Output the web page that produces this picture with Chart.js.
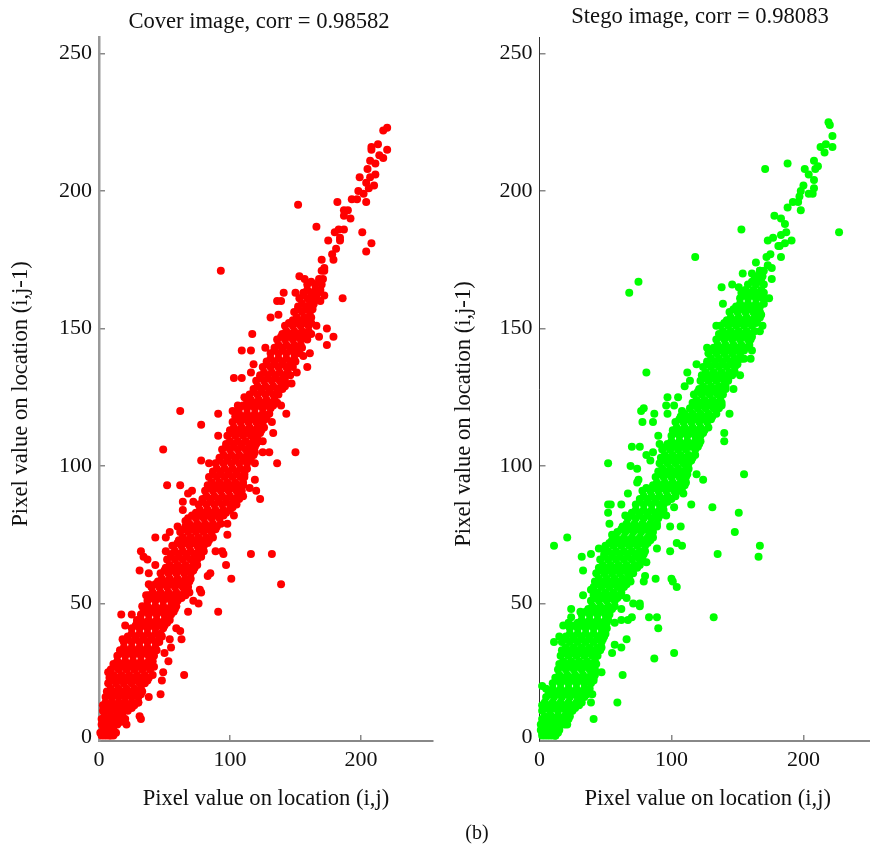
<!DOCTYPE html>
<html lang="en">
<head>
  <meta charset="UTF-8" />
  <title>Cover and stego pixel correlation</title>
  <script src="https://cdn.jsdelivr.net/npm/chart.js"></script>
  <style>
    html, body { margin: 0; padding: 0; background: #fff; width: 870px; height: 846px; overflow: hidden; }
    canvas { position: absolute; top: 0; }
    #cover { left: 0; }
    #stego { left: 440px; }
    #caption { position: absolute; left: 440px; top: 821px; width: 74px; text-align: center; font: 20px "Liberation Serif", serif; color: #111; }
  </style>
</head>
<body>
  <canvas id="cover" width="440" height="846"></canvas>
  <canvas id="stego" width="440" height="846"></canvas>
  <div id="caption">(b)</div>

  <script>
    const xTicks = [0, 100, 200];
    const yTicks = [0, 50, 100, 150, 200, 250];

    // dense part of the cloud, one row per pixel value on (i,j-1): [y, x, x, ...]
    const coverRows = [
      [2,2,6,9],[3,1,5,9,13],[6,2,6,10,14],[8,2,6,11,16,20],[11,3,8,13,18,22],[13,3,7,12,17,22,27],
      [16,5,10,15,20,25,30],[18,6,12,18,24,30,33],[21,7,13,19,25,31,35],[23,8,14,20,26,32,38],
      [26,9,15,21,27,33,39],[28,11,17,23,29,35,40],[31,14,20,26,32,38,42],[33,16,22,28,34,40,44],
      [36,19,25,31,37,43,46],[38,22,28,34,40,46,48],[41,25,31,37,43,49],[43,29,35,41,47,52],
      [46,32,38,44,50,55],[48,34,40,46,52,58],[51,37,43,49,55,60],[53,38,44,50,56,62,66],
      [56,40,46,52,58,64,68],[58,45,51,57,63,69],[61,47,53,59,65,70],[63,51,57,63,69,73],
      [66,52,58,64,70,75],[68,55,61,67,73,78],[71,57,63,69,75,80],[73,61,67,73,79,84],
      [76,62,68,74,80,86],[78,66,72,78,84,90],[81,68,74,80,86,92],[83,74,80,86,92,97],
      [86,76,82,88,94,100],[88,79,85,91,97,103,107],[91,81,87,93,99,105,109],[93,83,89,95,101,107,110],
      [96,84,90,96,102,108,111],[98,87,93,99,105,111],[101,89,95,101,107,113],[103,92,98,104,110,116],
      [106,94,100,106,112,117],[108,97,103,109,115,120],[111,98,104,110,116,121],[113,100,106,112,118,124],
      [116,102,108,114,120,125],[118,104,110,116,122,128],[121,107,113,119,125,131],[123,113,119,125,131,136],
      [126,115,121,127,133,137],[128,118,124,130,136,140],[131,120,126,132,138,142],[133,123,129,135,141,146],
      [136,125,131,137,143,148],[138,128,134,140,146,150],[141,131,137,143,149,153],[143,134,140,146,152,155],
      [146,136,142,148,154,159],[148,140,146,152,158,162],[151,142,148,154,160],[153,148,154,160],
      [156,149,155,161],[158,152,158,163],[161,153,159,164],[163,156,162,167],[166,159,165,170],
      [168,168,171],[171,170,172]
    ];

    // same cloud, the rows that sit between the ones above
    const coverFill = [
      [2,4,8,11],[4,3,7,11],[7,4,8,12,17],[9,4,9,14,18],[12,5,10,15,20,25],[14,5,10,15,20,25,30],
      [17,8,13,18,23,28,32],[19,9,15,21,27,32],[22,10,16,22,28,33,37],[24,11,17,23,29,35,41],
      [27,12,18,24,30,36,42],[29,14,20,26,32,38,41],[32,17,23,29,35,41],[34,19,25,31,37,43],
      [37,22,28,34,40,46],[39,25,31,37,43,47],[42,28,34,40,46,50],[44,32,38,44,50,54],
      [47,35,41,47,53,57],[49,37,43,49,55,59],[52,40,46,52,58,63],[54,41,47,53,59,65,69],
      [57,43,49,55,61,67],[59,48,54,60,66,70],[62,50,56,62,68,72],[64,54,60,66,72,75],
      [67,55,61,67,73,78],[69,58,64,70,76,80],[72,60,66,72,78,83],[74,64,70,76,82,87],
      [77,65,71,77,83,89],[79,69,75,81,87,93],[82,71,77,83,89,95],[84,77,83,89,95,100],
      [87,79,85,91,97,103],[89,82,88,94,100,106,110],[92,84,90,96,102,108],[94,86,92,98,104,110],
      [97,87,93,99,105,111],[99,90,96,102,108,113],[102,92,98,104,110,115],[104,95,101,107,113,118],
      [107,97,103,109,115,119],[109,100,106,112,118,122],[112,101,107,113,119,123],[114,103,109,115,121,126],
      [117,105,111,117,123,127],[119,107,113,119,125,130],[122,110,116,122,128,133],[124,116,122,128,134],
      [127,118,124,130,136],[129,121,127,133,139],[132,123,129,135,141],[134,126,132,138,144],
      [137,128,134,140,146],[139,131,137,143,149],[142,134,140,146,151],[144,137,143,149,154],
      [147,139,145,151,157],[149,143,149,155,160],[152,145,151,157,162],[154,151,157,162],
      [157,152,158,163],[159,155,161,164],[162,156,162,166],[164,159,165,169],[167,162,168]
    ];

    // scattered points read one by one: [x, y]
    const coverLoose = [
      [220,223],[217,222],[220,215],[213,217],[208,216],[208,215],[214,213],[217,212],[207,211],[211,210],
      [205,208],[211,206],[207,205],[199,205],[204,203],[210,202],[206,201],[198,200],[202,199],[193,197],
      [197,197],[204,196],[182,196],[152,195],[187,193],[190,193],[187,191],[192,190],[166,187],[187,186],
      [183,186],[180,185],[201,185],[184,183],[184,182],[175,182],[208,181],[181,179],[204,178],[178,177],
      [179,175],[170,175],[93,171],[172,172],[153,169],[157,168],[186,161],[172,162],[141,163],[150,163],
      [136,160],[139,160],[169,160],[131,154],[137,155],[166,151],[174,150],[179,147],[168,147],[174,144],
      [117,148],[109,142],[116,142],[127,143],[161,141],[156,140],[159,136],[118,137],[116,134],[151,134],
      [103,132],[109,132],[147,130],[142,129],[111,125],[106,122],[139,122],[62,120],[91,119],[143,119],
      [102,120],[78,115],[132,116],[133,112],[91,111],[125,109],[49,106],[125,105],[130,105],[150,105],
      [119,105],[78,102],[136,101],[119,101],[84,101],[119,95],[52,93],[62,93],[115,92],[120,91],
      [71,91],[68,90],[123,88],[64,87],[72,87],[105,86],[64,84],[102,85],[103,82],[66,80],
      [98,79],[60,78],[54,76],[43,74],[51,74],[98,75],[56,71],[32,69],[51,69],[94,69],
      [116,68],[132,68],[89,69],[95,68],[34,67],[37,66],[43,64],[97,64],[31,62],[38,61],
      [85,61],[83,60],[101,59],[139,57],[38,57],[77,55],[78,54],[36,53],[72,51],[76,50],
      [33,49],[68,47],[91,47],[17,46],[25,46],[20,42],[29,44],[59,41],[62,40],[63,37],
      [54,37],[18,37],[55,34],[50,32],[53,29],[49,25],[65,24],[7,25],[48,22],[47,17],
      [38,16],[30,14],[31,9],[32,8],[21,6]
    ];

    const stegoRows = [
      [2,2,6,10,12],[3,2,6,10,14],[6,1,6,11,16,19],[8,2,7,12,17,22],[11,2,8,14,20,25],[13,2,7,13,19,25,30],
      [16,5,11,17,23,29,34],[18,7,13,19,25,31,37],[21,10,16,22,28,34,39],[23,12,18,24,30,36,41],
      [26,14,20,26,32,38,42],[28,15,21,27,33,39,43],[31,16,22,28,34,40,44],[33,17,23,29,35,41,46],
      [36,17,23,29,35,41,47],[38,20,26,32,38,44,49],[41,23,29,35,41,47,51],[43,29,35,41,47,51],
      [46,32,38,44,50,53],[48,37,43,49,55],[51,39,45,51,57],[53,41,47,53,59,62],[56,41,47,53,59,64],
      [58,42,48,54,60,66,69],[61,43,49,55,61,67,71],[63,45,51,57,63,69,74],[66,46,52,58,64,70,76],
      [68,49,55,61,67,73,79],[71,50,56,62,68,74,80],[73,55,61,67,73,79,84],[76,59,65,71,77,83,86],
      [78,63,69,75,81,87,89],[81,67,73,79,85,90],[83,70,76,82,88,92],[86,73,79,85,91,94],
      [88,76,82,88,94,100],[91,78,84,90,96,102,106],[93,86,92,98,104,110],[96,88,94,100,106,111],
      [98,90,96,102,108,112],[101,91,97,103,109,113],[103,92,98,104,110,116],[106,93,99,105,111,118],
      [108,97,103,109,115,121],[111,100,106,112,118,122],[113,101,107,113,119,125],[116,103,109,115,121,127],
      [118,107,113,119,125,131],[121,114,120,126,132,136],[123,116,122,128,134,138],[126,117,123,129,135,139],
      [128,121,127,133,139,141],[131,122,128,134,140,143],[133,123,129,135,141,146],[136,124,130,136,142,148],
      [138,127,133,139,145,150],[141,128,134,140,146,152],[143,132,138,144,150,156],[146,134,140,146,152,158],
      [148,136,142,148,154,160],[151,137,143,149,155,161],[153,142,148,154,160,165],[156,144,150,156,162,167],
      [158,149,155,161,167],[161,152,158,164,169],[163,153,159,165,170],[166,158,164,170],[168,163,168],[171,167,170]
    ];

    const stegoFill = [
      [2,4,8,12],[4,4,8,12,15],[7,3,8,13,18],[9,4,9,14,19,23],[12,5,11,17,23,27],[14,4,10,16,22,28,32],
      [17,8,14,20,26,32,36],[19,10,16,22,28,34,38],[22,13,19,25,31,37,40],[24,15,21,27,33,39,42],
      [27,17,23,29,35,41],[29,18,24,30,36,42],[32,19,25,31,37,43],[34,20,26,32,38,44,47],
      [37,20,26,32,38,44,48],[39,23,29,35,41,47,50],[42,26,32,38,44,49],[44,32,38,44,50,52],
      [47,35,41,47,53],[49,40,46,52,57],[52,42,48,54,59],[54,44,50,56,62],[57,44,50,56,62,66],
      [59,45,51,57,63,68],[62,46,52,58,64,70],[64,48,54,60,66,72,76],[67,49,55,61,67,73,78],
      [69,52,58,64,70,76,80],[72,53,59,65,71,77,82],[74,58,64,70,76,82,86],[77,62,68,74,80,85],
      [79,66,72,78,84,89],[82,70,76,82,88,91],[84,73,79,85,91,94],[87,76,82,88,94,97],
      [89,79,85,91,97,103],[92,81,87,93,99,105,108],[94,89,95,101,107,111],[97,91,97,103,109,112],
      [99,93,99,105,111,113],[102,94,100,106,112,115],[104,95,101,107,113,118],[107,96,102,108,114,120],
      [109,100,106,112,118,122],[112,103,109,115,121,124],[114,104,110,116,122,128],[117,106,112,118,124,130],
      [119,110,116,122,128,134],[122,117,123,129,135],[124,119,125,131,137],[127,120,126,132,138],
      [129,124,130,136,141],[132,125,131,137,143],[134,126,132,138,144,148],[137,127,133,139,145,150],
      [139,130,136,142,148,153],[142,131,137,143,149,155],[144,135,141,147,153,159],[147,137,143,149,155,161],
      [149,139,145,151,157,163],[152,140,146,152,158,164],[154,145,151,157,163,167],[157,147,153,159,165],
      [159,152,158,164,170],[162,155,161,167],[164,156,162,168],[167,161,167],[169,165,169]
    ];

    const stegoLoose = [
      [219,225],[220,224],[222,220],[222,216],[213,216],[217,217],[216,214],[188,210],[171,208],[208,211],
      [211,209],[201,208],[204,206],[209,208],[208,204],[200,202],[198,200],[208,201],[204,199],[207,199],
      [197,198],[196,196],[192,196],[188,194],[198,193],[178,191],[183,190],[186,188],[153,186],[227,185],
      [187,185],[183,184],[177,183],[173,182],[191,182],[186,181],[182,180],[181,180],[175,177],[183,176],
      [118,176],[172,176],[164,174],[173,173],[176,172],[154,170],[161,170],[167,171],[176,168],[75,167],
      [68,163],[138,165],[146,166],[151,165],[174,161],[139,159],[168,155],[134,151],[169,151],[167,149],
      [127,143],[160,146],[161,142],[160,139],[155,139],[119,137],[152,133],[81,134],[112,134],[147,128],
      [110,129],[114,131],[105,125],[97,125],[96,122],[102,122],[79,121],[77,120],[87,119],[97,119],
      [144,119],[138,122],[108,120],[78,116],[86,116],[140,112],[140,109],[90,111],[91,108],[70,107],
      [76,107],[86,105],[81,104],[84,102],[52,101],[69,100],[74,99],[155,97],[119,97],[124,95],
      [75,95],[74,94],[67,90],[109,90],[115,86],[131,85],[52,86],[54,86],[62,86],[52,83],
      [151,83],[102,85],[96,82],[65,82],[53,79],[99,78],[107,78],[148,76],[55,75],[21,74],
      [11,71],[104,72],[108,71],[167,71],[45,70],[50,70],[89,70],[99,69],[39,68],[32,67],
      [135,68],[166,67],[81,65],[33,62],[80,60],[88,59],[100,59],[101,58],[79,58],[104,56],
      [39,55],[33,53],[66,52],[71,50],[76,50],[76,49],[62,48],[24,48],[31,47],[24,45],
      [22,43],[18,42],[70,45],[67,44],[62,44],[57,43],[83,45],[89,45],[132,45],[90,41],
      [66,37],[15,38],[11,36],[57,35],[62,34],[55,32],[102,32],[87,30],[47,25],[63,24],
      [41,22],[40,17],[39,14],[59,14],[41,8],[2,20],[5,19],[21,6],[12,2],[1,4]
    ];

    Chart.defaults.font.family = '"Liberation Serif", serif';
    Chart.defaults.color = '#111';

    function toPoints(rows, fill, loose) {
      const pts = [];
      rows.concat(fill).forEach(r => r.slice(1).forEach(x => pts.push({ x: x, y: r[0] })));
      loose.forEach(p => pts.push({ x: p[0], y: p[1] }));
      return pts;
    }

    // y axis label sits off-centre in the original, so it is placed by hand
    const yLabel = {
      id: 'yLabel',
      afterDraw(chart, args, o) {
        const ctx = chart.ctx;
        ctx.save();
        ctx.translate(o.x, o.y);
        ctx.rotate(-Math.PI / 2);
        ctx.font = '22.6px "Liberation Serif", serif';
        ctx.fillStyle = '#111';
        ctx.textAlign = 'center';
        ctx.textBaseline = 'middle';
        ctx.fillText('Pixel value on location (i,j-1)', 0, 0);
        ctx.restore();
      }
    };

    function drawScatter(id, c) {
      return new Chart(document.getElementById(id), {
        type: 'scatter',
        data: {
          datasets: [{
            data: c.points,
            backgroundColor: c.color,
            borderWidth: 0,
            pointRadius: 4,
            clip: false
          }]
        },
        plugins: [yLabel],
        options: {
          responsive: false,
          animation: false,
          // left padding only moves the title centre, the y labels hang outside the scale box
          layout: { padding: { left: c.padLeft, right: c.padRight } },
          plugins: {
            legend: { display: false },
            tooltip: { enabled: false },
            title: {
              display: true,
              text: c.title,
              font: { size: 22.6, weight: 'normal', lineHeight: 1.2 },
              color: '#111',
              padding: { top: c.titleTop, bottom: 9.9 - c.titleTop }
            },
            yLabel: { x: c.labelX, y: c.labelY }
          },
          scales: {
            x: {
              min: 0,
              max: 255,
              afterBuildTicks: s => { s.ticks = xTicks.map(v => ({ value: v })); },
              afterFit: s => { s.height = 105; },
              grid: { drawOnChartArea: false, tickLength: -6, color: '#888', lineWidth: 1.5 },
              border: { color: '#888', width: 2 },
              ticks: { padding: 12, font: { size: 22 }, color: '#111', maxRotation: 0, autoSkip: false },
              title: {
                display: true,
                text: 'Pixel value on location (i,j)',
                font: { size: 22.6 },
                color: '#111',
                padding: { top: 0, bottom: 33 }
              }
            },
            y: {
              min: 0,
              max: 256,
              afterBuildTicks: s => { s.ticks = yTicks.map(v => ({ value: v })); },
              afterFit: s => { s.width = c.axisLeft - c.padLeft; },
              grid: { drawOnChartArea: false, tickLength: -6, color: '#888', lineWidth: 1.5 },
              border: { color: c.yAxisColor, width: c.yAxisWidth },
              // mirror turns off the label clipping; the empty second line lifts the 0 a little
              ticks: {
                mirror: true,
                crossAlign: 'far',
                padding: -40,
                color: '#111',
                autoSkip: false,
                callback: v => (v === 0 ? ['0', ''] : String(v)),
                font: ctx => (ctx.tick && ctx.tick.value === 0 ? { size: 22, lineHeight: '8px' } : { size: 22 })
              }
            }
          }
        }
      });
    }

    drawScatter('cover', {
      points: toPoints(coverRows, coverFill, coverLoose),
      color: '#ff0000',
      title: 'Cover image, corr = 0.98582',
      titleTop: 8.5,
      padLeft: 85,
      padRight: 7,
      axisLeft: 99,
      yAxisColor: '#999',
      yAxisWidth: 2.5,
      labelX: 21,
      labelY: 394
    });

    drawScatter('stego', {
      points: toPoints(stegoRows, stegoFill, stegoLoose),
      color: '#00ff00',
      title: 'Stego image, corr = 0.98083',
      titleTop: 3.5,
      padLeft: 84,
      padRight: 4,
      axisLeft: 99.5,
      yAxisColor: '#333',
      yAxisWidth: 1,
      labelX: 24,
      labelY: 414
    });
  </script>
</body>
</html>
